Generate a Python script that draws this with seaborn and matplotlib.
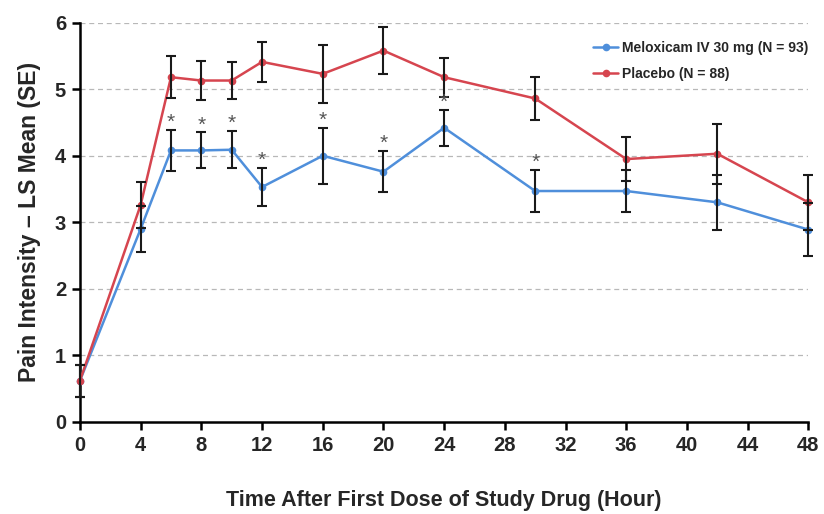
import numpy as np
import pandas as pd
import matplotlib
matplotlib.use('Agg')
import matplotlib.pyplot as plt
import seaborn as sns

# 时间点（小时）
hours = [0, 4, 6, 8, 10, 12, 16, 20, 24, 30, 36, 42, 48]

# 两组的LS均值和标准误
melox_mean = [0.62, 2.90, 4.08, 4.08, 4.09, 3.53, 4.00, 3.76, 4.42, 3.47, 3.47, 3.30, 2.89]
melox_se = [0.24, 0.35, 0.31, 0.27, 0.28, 0.29, 0.42, 0.31, 0.27, 0.32, 0.31, 0.41, 0.40]
placebo_mean = [0.62, 3.26, 5.18, 5.13, 5.13, 5.41, 5.23, 5.58, 5.18, 4.86, 3.95, 4.03, 3.30]
placebo_se = [0.24, 0.34, 0.32, 0.29, 0.28, 0.30, 0.44, 0.35, 0.29, 0.33, 0.33, 0.45, 0.41]

# 显著性标记的时间点
star_hours = [6, 8, 10, 12, 16, 20, 24, 30]

melox_label = 'Meloxicam IV 30 mg (N = 93)'
placebo_label = 'Placebo (N = 88)'
colors = {melox_label: '#4f8fdb', placebo_label: '#d6454f'}

df = pd.concat([
    pd.DataFrame({'hour': hours, 'mean': melox_mean, 'se': melox_se, 'group': melox_label}),
    pd.DataFrame({'hour': hours, 'mean': placebo_mean, 'se': placebo_se, 'group': placebo_label}),
], ignore_index=True)

sns.set_style('white')
plt.rcParams['font.family'] = ['Liberation Sans', 'DejaVu Sans']
plt.rcParams['font.weight'] = 'bold'

fig = plt.figure(figsize=(8.24, 5.14), dpi=100)
ax = fig.add_axes([0.097, 0.179, 0.884, 0.777])

# 网格线
for yv in range(1, 7):
    ax.axhline(yv, color='#b8b8b8', linestyle=(0, (4, 3)), linewidth=0.9, zorder=0)

sns.lineplot(data=df, x='hour', y='mean', hue='group', palette=colors,
             hue_order=[melox_label, placebo_label],
             marker='o', markersize=5.5, markeredgewidth=0, linewidth=1.8,
             ax=ax, zorder=3, clip_on=False)

# 误差棒
for g, sub in df.groupby('group'):
    ax.errorbar(sub['hour'], sub['mean'], yerr=sub['se'], fmt='none',
                ecolor='#1a1a1a', elinewidth=1.5, capsize=3.5, capthick=1.5,
                zorder=4, clip_on=False)

# 星号
mel = df[df['group'] == melox_label].set_index('hour')
for h in star_hours:
    top = mel.loc[h, 'mean'] + mel.loc[h, 'se']
    ax.text(h, top - 0.03, '*', ha='center', va='bottom', fontsize=15,
            color='#555555', fontweight='normal', zorder=6)

ax.set_xlim(0, 48)
ax.set_ylim(0, 6)
ax.set_xticks(np.arange(0, 49, 4))
ax.set_yticks(range(0, 7))
ax.tick_params(axis='both', labelsize=14.5, length=6, width=1.8, direction='out',
               color='black', pad=4, left=True, bottom=True)
for lab in ax.get_xticklabels() + ax.get_yticklabels():
    lab.set_fontweight('bold')

ax.spines['top'].set_visible(False)
ax.spines['right'].set_visible(False)
for s in ['left', 'bottom']:
    ax.spines[s].set_linewidth(1.8)
    ax.spines[s].set_color('black')

ax.set_xlabel('Time After First Dose of Study Drug (Hour)', fontsize=15.5,
              fontweight='bold', labelpad=25)
ax.set_ylabel('Pain Intensity \u2013 LS Mean (SE)', fontsize=16.5,
              fontweight='bold', labelpad=10)

leg = ax.legend(loc='upper right', bbox_to_anchor=(1.012, 0.975), frameon=False,
                fontsize=10, handlelength=1.8, handletextpad=0.3,
                labelspacing=0.85, borderaxespad=0.2)
for t in leg.get_texts():
    t.set_fontweight('bold')

fig.savefig('out.png', dpi=100)
